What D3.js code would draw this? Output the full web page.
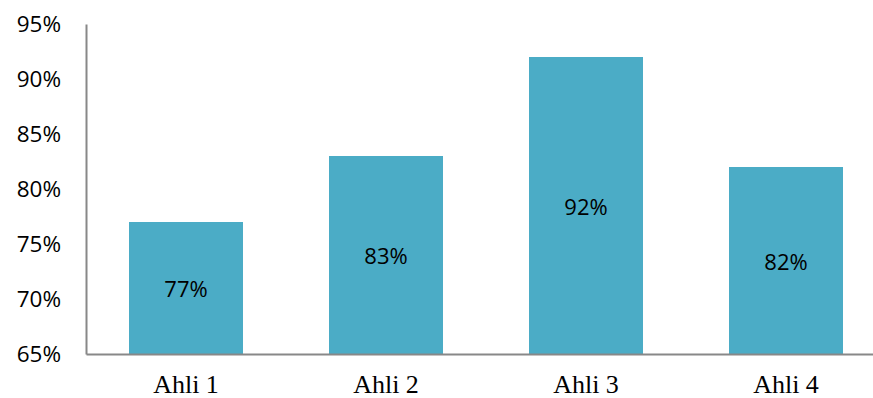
<!DOCTYPE html>
<html><head><meta charset="utf-8">
<script src="https://cdn.jsdelivr.net/npm/d3@7"></script>
<style>html,body{margin:0;padding:0;background:#fff;}</style>
</head><body>
<svg id="chart" width="873" height="398"></svg>
<script>
const categories = ["Ahli 1", "Ahli 2", "Ahli 3", "Ahli 4"];
const values = [0.77, 0.83, 0.92, 0.82];
const yTicks = [0.65, 0.70, 0.75, 0.80, 0.85, 0.90, 0.95];

(function () {
const svg = d3.select("#chart");
const mLeft = 86, mBottom = 354, mTop = 24;
const x = d3.scaleBand().domain(categories).range([mLeft, mLeft + 800]).paddingInner(0.43).paddingOuter(0.215);
const y = d3.scaleLinear().domain([0.65, 0.95]).range([mBottom, mTop]);
const fmt = d3.format(".0%");
const sans = "'Open Sans', sans-serif";

svg.selectAll("rect.bar").data(values).enter().append("rect")
  .attr("class", "bar")
  .attr("x", (d, i) => x(categories[i]))
  .attr("width", x.bandwidth())
  .attr("y", d => y(d))
  .attr("height", d => y(0.65) - y(d))
  .attr("fill", "#4BACC6");

svg.selectAll("text.val").data(values).enter().append("text")
  .attr("class", "val")
  .attr("x", (d, i) => x(categories[i]) + x.bandwidth() / 2)
  .attr("y", d => (y(d) + y(0.65)) / 2)
  .attr("text-anchor", "middle").attr("dominant-baseline", "central")
  .style("font-family", sans).style("font-size", "22px").attr("fill", "#000")
  .text(d => fmt(d));

const yAxis = svg.append("g").attr("transform", `translate(${mLeft},0)`)
  .call(d3.axisLeft(y).tickValues(yTicks).tickFormat(fmt).tickSize(0).tickPadding(25));
yAxis.select(".domain").attr("stroke", "#888").attr("stroke-width", 2);
yAxis.selectAll("text").style("font-family", sans).style("font-size", "22.5px").attr("fill", "#000");

const xAxis = svg.append("g").attr("transform", `translate(0,${mBottom})`)
  .call(d3.axisBottom(x).tickSize(0).tickPadding(21));
xAxis.select(".domain").attr("stroke", "#888").attr("stroke-width", 2);
xAxis.selectAll("text").style("font-family", "'Liberation Serif', 'Times New Roman', serif").style("font-size", "26px").attr("fill", "#000");
})();
</script>
</body></html>
